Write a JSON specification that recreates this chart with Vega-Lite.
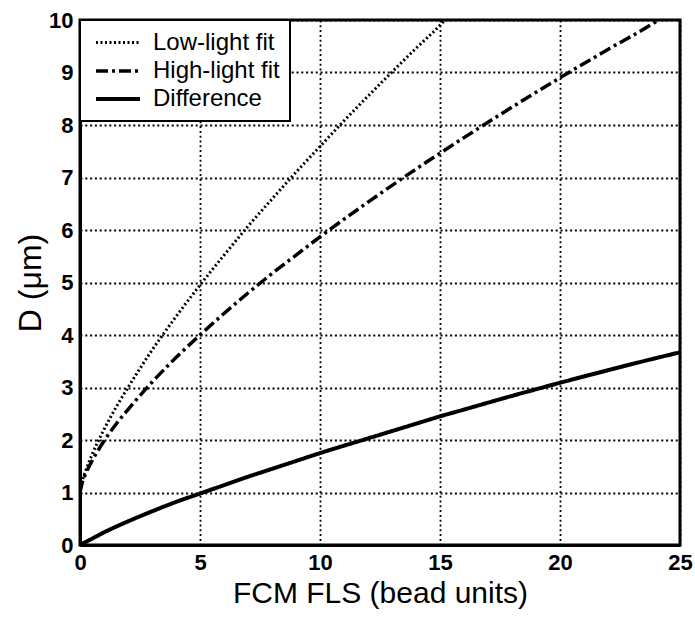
{
  "$schema": "https://vega.github.io/schema/vega-lite/v6.json",
  "autosize": "none",
  "width": 600,
  "height": 525,
  "padding": {"left": 80, "top": 20, "right": 15, "bottom": 76},
  "background": "white",
  "data": {
    "values": [
      {"fls": 0, "d": 1.0, "series": "Low-light fit"},
      {"fls": 0.1, "d": 1.22, "series": "Low-light fit"},
      {"fls": 0.25, "d": 1.43, "series": "Low-light fit"},
      {"fls": 0.5, "d": 1.72, "series": "Low-light fit"},
      {"fls": 1, "d": 2.2, "series": "Low-light fit"},
      {"fls": 1.5, "d": 2.62, "series": "Low-light fit"},
      {"fls": 2, "d": 3.0, "series": "Low-light fit"},
      {"fls": 3, "d": 3.71, "series": "Low-light fit"},
      {"fls": 4, "d": 4.35, "series": "Low-light fit"},
      {"fls": 5, "d": 4.95, "series": "Low-light fit"},
      {"fls": 6, "d": 5.52, "series": "Low-light fit"},
      {"fls": 7, "d": 6.07, "series": "Low-light fit"},
      {"fls": 8, "d": 6.59, "series": "Low-light fit"},
      {"fls": 9, "d": 7.1, "series": "Low-light fit"},
      {"fls": 10, "d": 7.59, "series": "Low-light fit"},
      {"fls": 11, "d": 8.08, "series": "Low-light fit"},
      {"fls": 12, "d": 8.55, "series": "Low-light fit"},
      {"fls": 13, "d": 9.01, "series": "Low-light fit"},
      {"fls": 14, "d": 9.46, "series": "Low-light fit"},
      {"fls": 15, "d": 9.9, "series": "Low-light fit"},
      {"fls": 15.2, "d": 10.0, "series": "Low-light fit"},

      {"fls": 0, "d": 1.0, "series": "High-light fit"},
      {"fls": 0.1, "d": 1.2, "series": "High-light fit"},
      {"fls": 0.25, "d": 1.37, "series": "High-light fit"},
      {"fls": 0.5, "d": 1.6, "series": "High-light fit"},
      {"fls": 1, "d": 1.98, "series": "High-light fit"},
      {"fls": 1.5, "d": 2.3, "series": "High-light fit"},
      {"fls": 2, "d": 2.58, "series": "High-light fit"},
      {"fls": 3, "d": 3.1, "series": "High-light fit"},
      {"fls": 4, "d": 3.57, "series": "High-light fit"},
      {"fls": 5, "d": 4.0, "series": "High-light fit"},
      {"fls": 6, "d": 4.41, "series": "High-light fit"},
      {"fls": 7, "d": 4.8, "series": "High-light fit"},
      {"fls": 8, "d": 5.17, "series": "High-light fit"},
      {"fls": 9, "d": 5.52, "series": "High-light fit"},
      {"fls": 10, "d": 5.87, "series": "High-light fit"},
      {"fls": 12, "d": 6.53, "series": "High-light fit"},
      {"fls": 14, "d": 7.16, "series": "High-light fit"},
      {"fls": 16, "d": 7.76, "series": "High-light fit"},
      {"fls": 18, "d": 8.34, "series": "High-light fit"},
      {"fls": 20, "d": 8.9, "series": "High-light fit"},
      {"fls": 22, "d": 9.44, "series": "High-light fit"},
      {"fls": 24, "d": 9.97, "series": "High-light fit"},
      {"fls": 24.1, "d": 10.0, "series": "High-light fit"},

      {"fls": 0, "d": 0, "series": "Difference"},
      {"fls": 0.5, "d": 0.12, "series": "Difference"},
      {"fls": 1, "d": 0.24, "series": "Difference"},
      {"fls": 2, "d": 0.45, "series": "Difference"},
      {"fls": 3, "d": 0.64, "series": "Difference"},
      {"fls": 4, "d": 0.82, "series": "Difference"},
      {"fls": 5, "d": 0.98, "series": "Difference"},
      {"fls": 6, "d": 1.14, "series": "Difference"},
      {"fls": 7, "d": 1.3, "series": "Difference"},
      {"fls": 8, "d": 1.45, "series": "Difference"},
      {"fls": 9, "d": 1.6, "series": "Difference"},
      {"fls": 10, "d": 1.75, "series": "Difference"},
      {"fls": 12, "d": 2.03, "series": "Difference"},
      {"fls": 14, "d": 2.31, "series": "Difference"},
      {"fls": 15, "d": 2.45, "series": "Difference"},
      {"fls": 16, "d": 2.58, "series": "Difference"},
      {"fls": 18, "d": 2.84, "series": "Difference"},
      {"fls": 20, "d": 3.09, "series": "Difference"},
      {"fls": 22, "d": 3.33, "series": "Difference"},
      {"fls": 24, "d": 3.56, "series": "Difference"},
      {"fls": 25, "d": 3.67, "series": "Difference"}
    ]
  },
  "mark": {"type": "line", "interpolate": "monotone", "color": "black", "clip": true},
  "encoding": {
    "x": {
      "field": "fls",
      "type": "quantitative",
      "scale": {"domain": [0, 25], "nice": false},
      "axis": {
        "values": [0, 5, 10, 15, 20, 25],
        "title": "FCM FLS (bead units)",
        "titleFontSize": 30,
        "titleBaseline": "alphabetic",
        "titleY": 57
      }
    },
    "y": {
      "field": "d",
      "type": "quantitative",
      "scale": {"domain": [0, 10], "nice": false},
      "axis": {
        "values": [0, 1, 2, 3, 4, 5, 6, 7, 8, 9, 10],
        "title": "D (μm)",
        "titleAngle": -90,
        "titleAlign": "center",
        "titleBaseline": "alphabetic",
        "titleX": -40,
        "titleY": 262.5
      }
    },
    "strokeDash": {
      "field": "series",
      "type": "nominal",
      "scale": {
        "domain": ["Low-light fit", "High-light fit", "Difference"],
        "range": [[2, 2.5], [12, 4, 3, 4], [1, 0]]
      },
      "legend": {"title": null, "labelExpr": "datum.label + '\u00a0\u00a0\u00a0\u00a0\u00a0'"}
    },
    "strokeWidth": {
      "field": "series",
      "type": "nominal",
      "scale": {
        "domain": ["Low-light fit", "High-light fit", "Difference"],
        "range": [3, 4, 4.5]
      },
      "legend": {"title": null, "labelExpr": "datum.label + '\u00a0\u00a0\u00a0\u00a0\u00a0'"}
    }
  },
  "config": {
    "view": {"stroke": "black", "strokeWidth": 3},
    "axis": {
      "domainColor": "black",
      "domainWidth": 3,
      "grid": true,
      "gridColor": "black",
      "gridOpacity": 1,
      "gridWidth": 1.8,
      "gridDash": [2, 2.8],
      "ticks": false,
      "labelFont": "Liberation Sans",
      "labelFontWeight": "bold",
      "labelFontSize": 22,
      "labelColor": "black",
      "titleFont": "Liberation Sans",
      "titleFontWeight": "normal",
      "titleFontSize": 32,
      "titleColor": "black"
    },
    "axisX": {"labelPadding": 7, "labelFlush": false},
    "axisY": {"labelPadding": 7, "labelFlush": false},
    "legend": {
      "orient": "top-left",
      "offset": 0,
      "strokeColor": "black",
      "strokeWidth": 2,
      "fillColor": "white",
      "padding": 10,
      "symbolType": "M-2,0H2",
      "symbolSize": 484,
      "symbolStrokeColor": "black",
      "symbolOffset": 15,
      "labelFont": "Liberation Sans",
      "labelFontSize": 24,
      "labelColor": "black",
      "labelOffset": 22,
      "rowPadding": 3,
      "labelLimit": 400
    }
  }
}
